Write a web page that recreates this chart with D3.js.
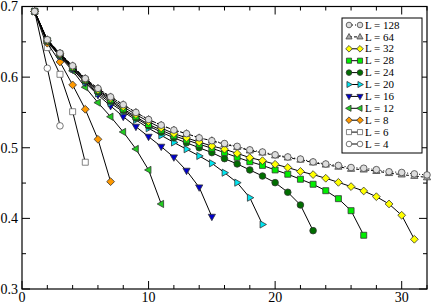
<!DOCTYPE html>
<html>
<head>
<meta charset="utf-8">
<script src="https://cdn.jsdelivr.net/npm/d3@7"></script>
<style>
  body { margin: 0; background: #fff; }
  svg text { font-family: "Liberation Serif", "DejaVu Serif", "Times New Roman", Times, serif; }
</style>
</head>
<body>
<div id="chart"></div>
<script>
// values at x = 1, 2, 3, ... for each system size
var sizes = [128, 64, 32, 28, 24, 20, 16, 12, 8, 6, 4];
var s128 = [0.693, 0.653, 0.634, 0.616, 0.598, 0.584, 0.572, 0.561, 0.550, 0.540, 0.532, 0.525, 0.520, 0.514, 0.510, 0.506,
            0.502, 0.497, 0.494, 0.490, 0.487, 0.484, 0.480, 0.477, 0.475, 0.472, 0.471, 0.469, 0.466, 0.465, 0.463, 0.4615];
var s64  = [0.693, 0.653, 0.634, 0.616, 0.598, 0.584, 0.572, 0.561, 0.550, 0.540, 0.532, 0.525, 0.520, 0.514, 0.510, 0.505,
            0.501, 0.496, 0.493, 0.489, 0.486, 0.483, 0.479, 0.476, 0.473, 0.470, 0.469, 0.467, 0.464, 0.462, 0.460, 0.458];
var s32  = [0.693, 0.652, 0.633, 0.615, 0.597, 0.582, 0.570, 0.558, 0.547, 0.537, 0.528, 0.520, 0.514, 0.508, 0.5025, 0.498,
            0.492, 0.486, 0.4817, 0.4766, 0.472, 0.4665, 0.462, 0.4568, 0.451, 0.445, 0.4388, 0.4307, 0.4204, 0.4044, 0.3704];
var s28  = [0.693, 0.652, 0.633, 0.614, 0.596, 0.581, 0.568, 0.555, 0.544, 0.533, 0.525, 0.517, 0.511, 0.505, 0.4993, 0.4931,
            0.4865, 0.4803, 0.475, 0.4686, 0.4625, 0.4554, 0.4483, 0.4392, 0.4279, 0.4109, 0.3761];
var s24  = [0.693, 0.652, 0.632, 0.613, 0.595, 0.579, 0.566, 0.553, 0.542, 0.531, 0.522, 0.514, 0.507, 0.500, 0.4931, 0.4846,
            0.4771, 0.4686, 0.460, 0.4506, 0.437, 0.419, 0.3826];
var s20  = [0.693, 0.651, 0.631, 0.612, 0.593, 0.577, 0.563, 0.551, 0.5394, 0.5276, 0.5175, 0.5075, 0.4979, 0.4884, 0.478,
            0.4647, 0.4506, 0.4293, 0.3914];
var s16  = [0.693, 0.651, 0.630, 0.611, 0.592, 0.5748, 0.5592, 0.544, 0.5299, 0.5157, 0.5016, 0.4865, 0.4676, 0.444, 0.4024];
var s12  = [0.693, 0.650, 0.629, 0.609, 0.5857, 0.5639, 0.544, 0.5224, 0.4983, 0.4686, 0.4204];
var s8   = [0.693, 0.648, 0.6215, 0.589, 0.5545, 0.512, 0.452];
var s6   = [0.693, 0.6418, 0.604, 0.551, 0.4795];
var s4   = [0.693, 0.6126, 0.531];

var xTicks = [0, 10, 20, 30];
var yTicks = [0.3, 0.4, 0.5, 0.6, 0.7];

var seriesVals = [s128, s64, s32, s28, s24, s20, s16, s12, s8, s6, s4];
var styles = [
  {shape: "circle", fill: "#ddd", stroke: "#444", dash: "1,2"},
  {shape: "up", fill: "#aaa", stroke: "#444", dash: "3,2"},
  {shape: "diamond", fill: "#ffff00", stroke: "#333", dash: null},
  {shape: "square", fill: "#00ee00", stroke: "#333", dash: null},
  {shape: "circle", fill: "#006e00", stroke: "#333", dash: null},
  {shape: "right", fill: "#00e5f0", stroke: "#333", dash: null},
  {shape: "down", fill: "#0000cc", stroke: "#333", dash: null},
  {shape: "left", fill: "#22cc22", stroke: "#333", dash: null},
  {shape: "diamond", fill: "#ff9900", stroke: "#333", dash: null},
  {shape: "square", fill: "#fff", stroke: "#666", dash: null},
  {shape: "circle", fill: "#fff", stroke: "#555", dash: null}
];

var W = 431, H = 304;
var margin = {left: 22, right: 4, top: 6.5, bottom: 15};

var svg = d3.select("#chart").append("svg").attr("width", W).attr("height", H);

var x = d3.scaleLinear().domain([0, 32]).range([margin.left, W - margin.right]);
var y = d3.scaleLinear().domain([0.3, 0.7]).range([H - margin.bottom, margin.top]);

// marker path around (0,0)
function markerPath(kind, sc) {
  sc = sc || 1;
  var r = 3.3 * sc, t = 4 * sc, d = 3.9 * sc, q = 3 * sc;
  if (kind == "circle") return "M" + r + ",0A" + r + "," + r + " 0 1,1 " + (-r) + ",0A" + r + "," + r + " 0 1,1 " + r + ",0Z";
  if (kind == "square") return "M" + (-q) + "," + (-q) + "H" + q + "V" + q + "H" + (-q) + "Z";
  if (kind == "diamond") return "M0," + (-d) + "L" + d + ",0L0," + d + "L" + (-d) + ",0Z";
  if (kind == "up") return "M0," + (-t) + "L" + (t * 0.9) + "," + (t * 0.6) + "L" + (-t * 0.9) + "," + (t * 0.6) + "Z";
  if (kind == "down") return "M0," + t + "L" + (t * 0.9) + "," + (-t * 0.6) + "L" + (-t * 0.9) + "," + (-t * 0.6) + "Z";
  if (kind == "right") return "M" + t + ",0L" + (-t * 0.6) + "," + (t * 0.9) + "L" + (-t * 0.6) + "," + (-t * 0.9) + "Z";
  if (kind == "left") return "M" + (-t) + ",0L" + (t * 0.6) + "," + (t * 0.9) + "L" + (t * 0.6) + "," + (-t * 0.9) + "Z";
}

// frame with inward ticks on all four sides
var gx = svg.append("g").attr("transform", "translate(0," + y.range()[0] + ")");
var gxTop = svg.append("g").attr("transform", "translate(0," + y.range()[1] + ")");
var gy = svg.append("g").attr("transform", "translate(" + x.range()[0] + ",0)");
var gyRight = svg.append("g").attr("transform", "translate(" + x.range()[1] + ",0)");

var xMinor = [2, 4, 6, 8, 12, 14, 16, 18, 22, 24, 26, 28, 32];
var yMinor = [0.35, 0.45, 0.55, 0.65];

function drawTicks(g, vals, scale, horiz, sign, len) {
  g.selectAll(null).data(vals).enter().append("line")
    .attr("x1", function(d) { return horiz ? scale(d) : 0; })
    .attr("x2", function(d) { return horiz ? scale(d) : sign * len; })
    .attr("y1", function(d) { return horiz ? 0 : scale(d); })
    .attr("y2", function(d) { return horiz ? sign * len : scale(d); })
    .attr("stroke", "#000").attr("stroke-width", 1);
}
drawTicks(gx, xTicks, x, true, -1, 8);
drawTicks(gx, xMinor, x, true, -1, 4);
drawTicks(gxTop, xTicks, x, true, 1, 8);
drawTicks(gxTop, xMinor, x, true, 1, 4);
drawTicks(gy, yTicks, y, false, 1, 8);
drawTicks(gy, yMinor, y, false, 1, 4);
drawTicks(gyRight, yTicks, y, false, -1, 8);
drawTicks(gyRight, yMinor, y, false, -1, 4);

svg.append("rect")
  .attr("x", x.range()[0]).attr("y", y.range()[1])
  .attr("width", x.range()[1] - x.range()[0]).attr("height", y.range()[0] - y.range()[1])
  .attr("fill", "none").attr("stroke", "#000").attr("stroke-width", 1.2);

gx.selectAll("text.xl").data(xTicks).enter().append("text")
  .attr("x", function(d) { return x(d); }).attr("y", 13)
  .attr("text-anchor", "middle").style("font-size", "14px")
  .text(function(d) { return d; });

gy.selectAll("text.yl").data(yTicks).enter().append("text")
  .attr("x", -4).attr("y", function(d) { return y(d); })
  .attr("dy", "0.35em").attr("text-anchor", "end").style("font-size", "14px")
  .text(function(d) { return d.toFixed(1); });

svg.append("clipPath").attr("id", "plotclip").append("rect")
  .attr("x", x.range()[0]).attr("y", y.range()[1])
  .attr("width", x.range()[1] - x.range()[0]).attr("height", y.range()[0] - y.range()[1]);

var line = d3.line().x(function(d, i) { return x(i + 1); }).y(function(d) { return y(d); });

// series: smallest L first, largest L on top
for (var k = seriesVals.length - 1; k >= 0; k--) {
  var vals = seriesVals[k], st = styles[k];
  var g = svg.append("g");
  g.append("path").datum(vals)
    .attr("d", line).attr("fill", "none")
    .attr("stroke", "#000").attr("stroke-width", 1)
    .attr("stroke-dasharray", st.dash)
    .attr("clip-path", "url(#plotclip)");
  g.selectAll("path.m").data(vals).enter().append("path")
    .attr("class", "m")
    .attr("transform", function(d, i) { return "translate(" + x(i + 1) + "," + y(d) + ")"; })
    .attr("d", markerPath(st.shape))
    .attr("fill", st.fill).attr("stroke", st.stroke).attr("stroke-width", 0.8);
}

// legend
var lg = svg.append("g");
lg.append("rect").attr("x", 342).attr("y", 18).attr("width", 80).attr("height", 135)
  .attr("fill", "#fff").attr("stroke", "#000").attr("stroke-width", 1);
sizes.forEach(function(L, i) {
  var yy = 25 + i * 11.9, st = styles[i];
  lg.append("line").attr("x1", 349).attr("x2", 360).attr("y1", yy).attr("y2", yy)
    .attr("stroke", "#000").attr("stroke-width", 1).attr("stroke-dasharray", st.dash);
  [349, 360].forEach(function(px) {
    lg.append("path").attr("transform", "translate(" + px + "," + yy + ")")
      .attr("d", markerPath(st.shape, 0.85))
      .attr("fill", st.fill).attr("stroke", st.stroke).attr("stroke-width", 0.8);
  });
  lg.append("text").attr("x", 365).attr("y", yy).attr("dy", "0.33em")
    .style("font-size", "11px").text("L = " + L);
});
</script>
</body>
</html>
